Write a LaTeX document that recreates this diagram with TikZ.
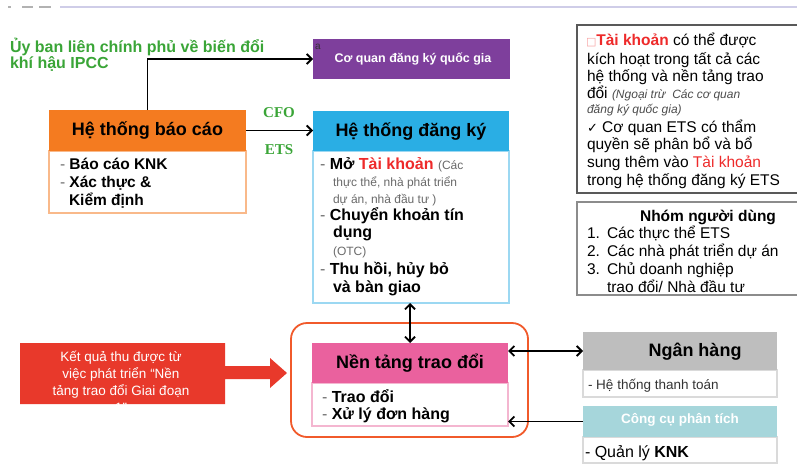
\documentclass[tikz,border=0pt]{standalone}
\usepackage{fontspec}
\setmainfont{Liberation Sans}
\newfontfamily\serifb{Liberation Serif}
\newfontfamily\djv{DejaVu Sans}
\usetikzlibrary{arrows.meta}
\definecolor{orangeH}{HTML}{F47B20}
\definecolor{orangeB}{HTML}{F9B98A}
\definecolor{purpleH}{HTML}{7E3F9C}
\definecolor{blueH}{HTML}{2AAEE4}
\definecolor{blueB}{HTML}{9CD8F2}
\definecolor{pinkH}{HTML}{EA619E}
\definecolor{pinkB}{HTML}{F4B6D0}
\definecolor{frameC}{HTML}{F15A2B}
\definecolor{redA}{HTML}{E8392B}
\definecolor{grayH}{HTML}{BEBEBE}
\definecolor{grayB}{HTML}{DADADA}
\definecolor{tealH}{HTML}{A6D6DB}
\definecolor{greenT}{HTML}{3AA537}
\definecolor{tkred}{HTML}{EE2A2A}
\definecolor{txtgray}{HTML}{6A6A6A}
\definecolor{lav}{HTML}{CFCDE8}
\newcommand\fsz[2]{\fontsize{#1}{#2}\selectfont}
\begin{document}
\begin{tikzpicture}[x=1pt,y=-1pt,
  hdr/.style={rectangle, anchor=north west, inner sep=0pt, outer sep=0pt},
  bodybox/.style={rectangle, anchor=north west, draw, line width=1.2pt, fill=white, inner sep=0pt, outer sep=0pt},
  ln/.style={anchor=base west, inner sep=0pt, outer sep=0pt},
  htxt/.style={inner sep=0pt, font=\bfseries\fsz{18}{20}},
  btxt/.style={ln, font=\bfseries\fsz{15.5}{18}},
  rtxt/.style={ln, font=\fsz{15.5}{18}},
  arr/.style={line width=1.8pt, -{Straight Barb[length=5pt,width=10pt]}},
  darr/.style={line width=1.8pt, {Straight Barb[length=5pt,width=10pt]}-{Straight Barb[length=5pt,width=10pt]}}
]
\useasboundingbox (0,0) rectangle (797,463);
\fill[white] (0,0) rectangle (797,463);

% top faint line
\draw[lav, line width=1.2pt] (60,7) -- (797,7);
\draw[gray!60, line width=1.2pt] (8,7) -- (11,7) (22,7) -- (33,7) (39,7) -- (51,7);

% IPCC text
\node[ln, align=left, text=greenT, font=\bfseries\fsz{16}{15.5}] (ipcc) at (10,68) {Ủy ban liên chính phủ về biến đổi\\khí hậu IPCC};

% reporting system
\node[bodybox, draw=orangeB, minimum width=197pt, minimum height=62pt] (ob) at (49,151) {};
\node[hdr, fill=orangeH, minimum width=197pt, minimum height=41pt] (oh) at (49,110) {};
\node[htxt] (oht) at (oh.center) {Hệ thống báo cáo};
\node[btxt] (o1) at (60,169) {{\mdseries\color{txtgray}-} Báo cáo KNK};
\node[btxt] (o2) at (60,187) {{\mdseries\color{txtgray}-} Xác thực \&};
\node[btxt] (o3) at (69,205) {Kiểm định};

% purple
\node[hdr, fill=purpleH, minimum width=197pt, minimum height=40pt] (pu) at (313,39) {};
\node[inner sep=0pt, text=white, font=\bfseries\fsz{12.5}{14}] (put) at (413,59) {Cơ quan đăng ký quốc gia};
\node[inner sep=0pt, text=black!80, font=\fsz{10}{12}] (pua) at (318,47) {a};

% registry
\node[bodybox, draw=blueB, minimum width=196pt, minimum height=152pt] (bb) at (313,151) {};
\node[hdr, fill=blueH, minimum width=196pt, minimum height=40pt] (bh) at (313,111) {};
\node[htxt] (bht) at (bh.center) {Hệ thống đăng ký};
\node[ln, font=\bfseries\fsz{16}{18}] (b1) at (320,169) {{\mdseries\color{txtgray}-} Mở \textcolor{tkred}{Tài khoản} {\mdseries\fsz{12}{14}\color{txtgray}(Các}};
\node[ln, font=\fsz{12}{14}, text=txtgray] (b2) at (333,186) {thực thể, nhà phát triển};
\node[ln, font=\fsz{12}{14}, text=txtgray] (b3) at (333,203) {dự án, nhà đầu tư )};
\node[ln, font=\bfseries\fsz{16}{18}] (b4) at (320,220) {{\mdseries\color{txtgray}-} Chuyển khoản tín};
\node[ln, font=\bfseries\fsz{16}{18}] (b5) at (333,237) {dụng};
\node[ln, font=\fsz{12}{14}, text=txtgray] (b6) at (333,255) {(OTC)};
\node[ln, font=\bfseries\fsz{16}{18}] (b7) at (320,274) {{\mdseries\color{txtgray}-} Thu hồi, hủy bỏ};
\node[ln, font=\bfseries\fsz{16}{18}] (b8) at (333,292) {và bàn giao};

% CFO / ETS
\node[inner sep=0pt, text=greenT, font=\serifb\bfseries\fsz{15}{17}] (cfo) at (279,113) {CFO};
\node[inner sep=0pt, text=greenT, font=\serifb\bfseries\fsz{15}{17}] (ets) at (279,150) {ETS};

% exchange platform
\draw[frameC, line width=1.8pt, rounded corners=16pt] (291,323) rectangle (528,437);
\node[bodybox, draw=pinkB, minimum width=196pt, minimum height=43pt] (pb) at (312,383) {};
\node[hdr, fill=pinkH, minimum width=196pt, minimum height=40pt] (ph) at (312,343) {};
\node[htxt] (pht) at (ph.center) {Nền tảng trao đổi};
\node[ln, font=\bfseries\fsz{16}{18}] (p1) at (322,402) {{\mdseries\color{txtgray}-} Trao đổi};
\node[ln, font=\bfseries\fsz{16}{18}] (p2) at (322,419) {{\mdseries\color{txtgray}-} Xử lý đơn hàng};

% bank
\node[bodybox, draw=grayB, minimum width=194pt, minimum height=27pt] (gb) at (583,370) {};
\node[hdr, fill=grayH, minimum width=194pt, minimum height=38pt] (gh) at (583,332) {};
\node[htxt] (ght) at (695,352) {Ngân hàng};
\node[ln, font=\fsz{13.5}{15}, text=black!80] (g1) at (588,389) {- Hệ thống thanh toán};

% analytics
\node[bodybox, draw=grayB, minimum width=194pt, minimum height=26pt] (tb) at (583,437) {};
\node[hdr, fill=tealH, minimum width=194pt, minimum height=31pt] (th) at (583,406) {};
\node[inner sep=0pt, text=white, font=\bfseries\fsz{13.5}{15}] (tht) at (680,420) {Công cụ phân tích};
\node[ln, font=\fsz{16}{18}] (t1) at (585,457) {- Quản lý \textbf{KNK}};

% red arrow block
\fill[redA] (20,343) -- (225,343) -- (225,366) -- (270,366) -- (270,358) -- (287,373)
  -- (270,388) -- (270,379) -- (225,379) -- (225,404) -- (20,404) -- cycle;
\node[anchor=north, inner sep=0pt, align=center, text=white, font=\fsz{13.5}{17}] (rt) at (121,351)
  {Kết quả thu được từ\\việc phát triển “Nền\\tảng trao đổi Giai đoạn\\1”};

% right info box 1
\draw[black!65, line width=1.8pt] (577,25) rectangle (800,193);
\node[rtxt] (r1) at (586,45) {{\djv\fsz{11}{13}\color{tkred!45}□}\textbf{\textcolor{tkred}{Tài khoản}} có thể được};
\node[rtxt] (r2) at (587,64) {kích hoạt trong tất cả các};
\node[rtxt] (r3) at (587,81) {hệ thống và nền tảng trao};
\node[rtxt] (r4) at (587,98) {đổi {\itshape\fsz{12}{14}\color{black!70}(Ngoại trừ\ \ Các cơ quan}};
\node[ln, font=\itshape\fsz{12}{14}, text=black!70] (r5) at (587,113) {đăng ký quốc gia)};
\node[rtxt] (r6) at (587,132) {{\djv\fsz{13}{15}✓} Cơ quan ETS có thẩm};
\node[rtxt] (r7) at (587,149) {quyền sẽ phân bổ và bổ};
\node[rtxt] (r8) at (587,167) {sung thêm vào \textcolor{tkred}{Tài khoản}};
\node[rtxt] (r9) at (587,185) {trong hệ thống đăng ký ETS};

% right info box 2
\draw[black!45, line width=1.4pt] (577,202) rectangle (800,295);
\node[inner sep=0pt, anchor=base, font=\bfseries\fsz{15.5}{18}] (ng) at (708,221) {Nhóm người dùng};
\node[rtxt] (n1) at (587,238) {1.};
\node[rtxt] (n1t) at (607,238) {Các thực thể ETS};
\node[rtxt] (n2) at (587,256) {2.};
\node[rtxt] (n2t) at (607,256) {Các nhà phát triển dự án};
\node[rtxt] (n3) at (587,274) {3.};
\node[rtxt] (n3t) at (607,274) {Chủ doanh nghiệp};
\node[rtxt] (n4t) at (607,292) {trao đổi/ Nhà đầu tư};

% connectors
\draw[arr] (oh.north) |- (pu.west);
\draw[arr] (oh.east) -- (oh.east -| bh.west);
\draw[darr] (ph.north |- bb.south) -- (ph.north);
\draw[darr] (gh.west -| ph.east) -- (gh.west);
\draw[arr] (th.west) -- (th.west -| pb.east);
\end{tikzpicture}
\end{document}
